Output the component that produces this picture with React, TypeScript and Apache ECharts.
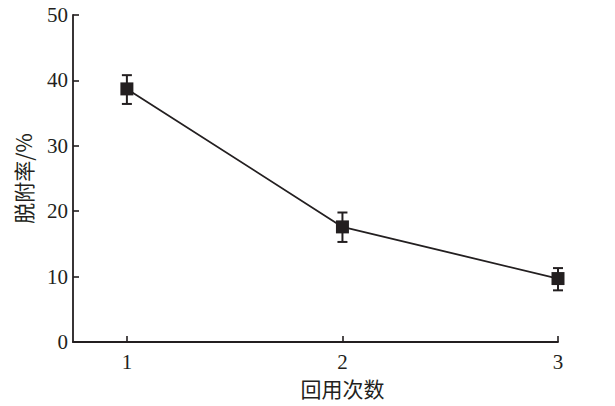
import React, { useEffect, useRef } from "react";
import * as echarts from "echarts";

// Reuse cycles and desorption rate (%) with error bounds
const cycles = [1, 2, 3];
const desorption = [38.7, 17.6, 9.7];
const errLow = [36.4, 15.3, 7.9];
const errHigh = [40.8, 19.8, 11.3];
const yTicks = { min: 0, max: 50, interval: 10 };

const ink = "#231f20";
const serif = "Liberation Serif, Times New Roman, serif";
const cjk = "Noto Sans CJK SC, sans-serif";

export default function App() {
  const ref = useRef<HTMLDivElement>(null);

  useEffect(() => {
    if (!ref.current) return;
    const chart = echarts.init(ref.current, null, { renderer: "svg" });
    const points = cycles.map((c, i) => [c, desorption[i]]);
    const bars = cycles.map((c, i) => [c, errLow[i], errHigh[i]]);

    chart.setOption({
      animation: false,
      backgroundColor: "#ffffff",
      grid: { left: 73, right: 57, top: 15, bottom: 64, outerBoundsMode: "none", containLabel: false },
      xAxis: {
        type: "value",
        min: 0.75,
        max: 3,
        interval: 1,
        name: "回用次数",
        nameLocation: "middle",
        nameGap: 35,
        nameTextStyle: { fontFamily: cjk, fontSize: 21, color: ink, padding: [0, 0, 0, 54] },
        axisLine: { show: true, lineStyle: { color: ink, width: 1.8 } },
        axisTick: {
          show: true,
          inside: true,
          length: 6,
          lineStyle: { color: ink, width: 1.6 },
          customValues: cycles,
        },
        axisLabel: {
          color: ink,
          fontFamily: serif,
          fontSize: 21,
          margin: 9,
          customValues: cycles,
        },
        splitLine: { show: false },
      },
      yAxis: {
        type: "value",
        min: yTicks.min,
        max: yTicks.max,
        interval: yTicks.interval,
        name: "脱附率/%",
        nameLocation: "middle",
        nameGap: 40,
        nameRotate: 90,
        nameTextStyle: { fontFamily: cjk, fontSize: 21, color: ink },
        axisLine: { show: true, lineStyle: { color: ink, width: 1.8 } },
        axisTick: { show: true, inside: true, length: 6, lineStyle: { color: ink, width: 1.6 } },
        axisLabel: { color: ink, fontFamily: serif, fontSize: 21, margin: 5 },
        splitLine: { show: false },
      },
      series: [
        {
          type: "line",
          data: points,
          symbol: "none",
          lineStyle: { color: ink, width: 1.8 },
          z: 2,
        },
        {
          type: "custom",
          data: bars,
          z: 3,
          renderItem: (params: any, api: any) => {
            const x = api.value(0);
            const lo = api.coord([x, api.value(1)]);
            const hi = api.coord([x, api.value(2)]);
            const cap = 5;
            const style = { stroke: ink, lineWidth: 2 };
            return {
              type: "group",
              children: [
                { type: "line", shape: { x1: lo[0], y1: lo[1], x2: hi[0], y2: hi[1] }, style },
                { type: "line", shape: { x1: lo[0] - cap, y1: lo[1], x2: lo[0] + cap, y2: lo[1] }, style },
                { type: "line", shape: { x1: hi[0] - cap, y1: hi[1], x2: hi[0] + cap, y2: hi[1] }, style },
              ],
            };
          },
        },
        {
          type: "scatter",
          data: points,
          symbol: "rect",
          symbolSize: 13,
          itemStyle: { color: ink, opacity: 1 },
          z: 4,
        },
      ],
    });
    return () => chart.dispose();
  }, []);

  return (
    <div
      ref={ref}
      style={{ position: "fixed", left: 0, top: 0, width: 615, height: 406, overflow: "hidden" }}
    />
  );
}
